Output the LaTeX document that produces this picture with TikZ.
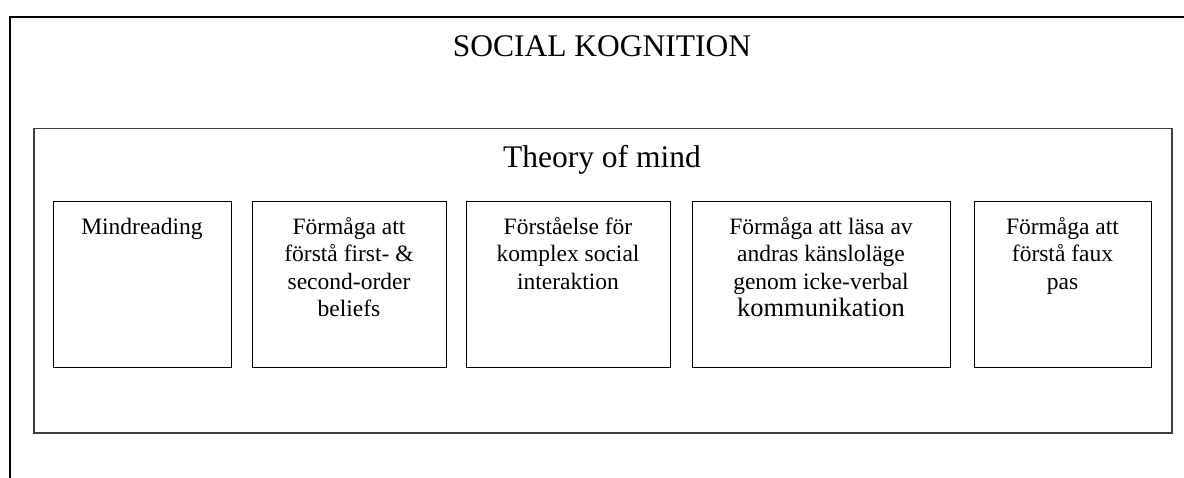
\documentclass[tikz,border=0pt]{standalone}
\usepackage{fontspec}
\setmainfont{Liberation Serif}
\usetikzlibrary{positioning}
\tikzset{
  frame/.style={draw=black!75, line width=1.5pt, inner sep=0pt, anchor=north west},
  itembox/.style={draw, line width=1pt, minimum height=166pt, inner sep=0pt},
  itemtext/.style={align=center, font=\fontsize{23.5}{27.5}\selectfont, inner sep=0pt, anchor=base},
  heading/.style={font=\fontsize{31.5}{36}\selectfont, inner sep=0pt, anchor=base}
}

\begin{document}
\begin{tikzpicture}[x=1pt,y=-1pt]
  \useasboundingbox (0,0) rectangle (1184,478);
  \clip (0,0) rectangle (1184,478);
  % outer frame runs off the page on the right and at the bottom
  \node[frame, draw=black, line width=2pt, minimum width=1220pt, minimum height=520pt] (social) at (9,16) {};
  \node[heading] (socialtitle) at (602,57) {SOCIAL KOGNITION};
  \node[frame, minimum width=1138pt, minimum height=304pt] (tom) at (33,128) {};
  \node[heading] (tomtitle) at (602,168) {Theory of mind};
  % the five parts of theory of mind
  \node[itembox, minimum width=178pt] (mindread) at (142,285) {};
  \node[itembox, minimum width=194pt] (beliefs) at (349,285) {};
  \node[itembox, minimum width=204pt] (interakt) at (568,285) {};
  \node[itembox, minimum width=258pt] (kansla) at (821,285) {};
  \node[itembox, minimum width=177pt] (fauxpas) at (1062.5,285) {};
  % base anchor sits on the last line
  \node[itemtext] at ([yshift=-33pt]mindread.north) {Mindreading};
  \node[itemtext] at ([yshift=-115.5pt]beliefs.north) {Förmåga att\\förstå first- \&\\second-order\\beliefs};
  \node[itemtext] at ([yshift=-88pt]interakt.north) {Förståelse för\\komplex social\\interaktion};
  \node[itemtext] at ([yshift=-115.5pt]kansla.north) {Förmåga att läsa av\\andras känsloläge\\genom icke-verbal\\{\fontsize{26.5}{27.5}\selectfont kommunikation}};
  \node[itemtext] at ([yshift=-88pt]fauxpas.north) {Förmåga att\\förstå faux\\pas};
\end{tikzpicture}
\end{document}
